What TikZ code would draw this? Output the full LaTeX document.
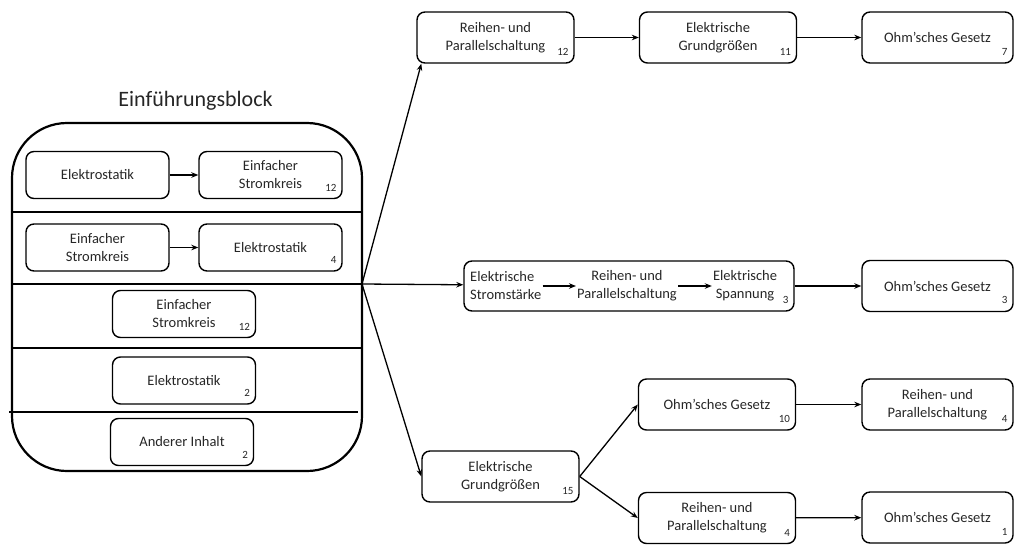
\documentclass[tikz,border=0pt]{standalone}
\usepackage{fontspec}
\setmainfont{Carlito}
\usepackage{tikz}
\usetikzlibrary{arrows.meta, positioning}

\begin{document}
\begin{tikzpicture}[
        x=1pt, y=-1pt,
        font=\fontsize{14.5}{18}\selectfont,
        lbox/.style={rectangle, draw=black, line width=1.4pt, rounded corners=8pt,
            minimum width=143pt, minimum height=47pt, inner sep=0pt, align=center, text=black!85},
        rbox/.style={lbox, minimum width=157pt, minimum height=51pt},
        obox/.style={rbox, minimum width=151pt},
        frame/.style={rectangle, draw=black, line width=2.2pt, rounded corners=55pt,
            minimum width=350pt, minimum height=348pt, inner sep=0pt},
        num/.style={font=\fontsize{11}{13}\selectfont, text=black!85, inner sep=0pt,
            anchor=south east, xshift=-6pt, yshift=8pt},
        sub/.style={inner sep=1pt, align=center, text=black!85},
        arr/.style={-{Stealth[length=7pt,width=5.5pt]}, line width=1.3pt},
        sep/.style={line width=1.1pt}
    ]
    \useasboundingbox (0,0) rectangle (1016,544);

    % Einfuehrungsblock
    \node[text=black!85, font=\fontsize{22}{26}\selectfont] (title) at (195.5,101) {Einführungsblock};
    \node[frame] (blk) at (187,297) {};
    \coordinate (hub) at (362,284);
    \draw[sep] (blk.west |- 0,212) -- (blk.east |- 0,212);
    \draw[sep] (blk.west |- hub) -- (hub);
    \draw[sep] (blk.west |- 0,348) -- (blk.east |- 0,348);
    \draw[sep] (9,412) -- (358,412);

    \node[lbox] (e1) at (97.5,175) {Elektrostatik};
    \node[lbox] (s1) at (270.5,175) {Einfacher\\Stromkreis};
    \node[num] (s1n) at (s1.south east) {12};
    \node[lbox] (s2) at (97.5,247.5) {Einfacher\\Stromkreis};
    \node[lbox] (e2) at (270.5,247.5) {Elektrostatik};
    \node[num] (e2n) at (e2.south east) {4};
    \node[lbox] (s3) at (184,314) {Einfacher\\Stromkreis};
    \node[num] (s3n) at (s3.south east) {12};
    \node[lbox] (e3) at (184,380.5) {Elektrostatik};
    \node[num] (e3n) at (e3.south east) {2};
    \node[lbox] (ai) at (182,442) {Anderer Inhalt};
    \node[num] (ain) at (ai.south east) {2};

    \draw[arr] (e1) -- (s1);
    \draw[arr] (s2) -- (e2);

    % oberer Pfad
    \node[rbox] (ra) at (495.5,37.5) {Reihen- und\\Parallelschaltung};
    \node[num] (ran) at (ra.south east) {12};
    \node[rbox] (ga) at (718,37.5) {Elektrische\\Grundgrößen};
    \node[num] (gan) at (ga.south east) {11};
    \node[obox] (oa) at (937.5,37.5) {Ohm’sches Gesetz};
    \node[num] (oan) at (oa.south east) {7};

    % mittlerer Pfad
    \node[rbox, minimum width=330pt, minimum height=50pt] (chain) at (629,286) {};
    \node[sub, anchor=west, align=left] (ci) at (469,286) {Elektrische\\Stromstärke};
    \node[sub] (cr) at (627,286) {Reihen- und\\Parallelschaltung};
    \node[sub] (cu) at (745,286) {Elektrische\\Spannung};
    \node[num] (chainn) at (chain.south east) {3};
    \node[obox] (ob) at (937.5,286) {Ohm’sches Gesetz};
    \node[num] (obn) at (ob.south east) {3};

    % unterer Pfad
    \node[rbox] (gc) at (500.5,476.5) {Elektrische\\Grundgrößen};
    \node[num] (gcn) at (gc.south east) {15};
    \node[rbox] (oc) at (717,404.5) {Ohm’sches Gesetz};
    \node[num] (ocn) at (oc.south east) {10};
    \node[obox] (rc) at (937.5,404.5) {Reihen- und\\Parallelschaltung};
    \node[num] (rcn) at (rc.south east) {4};
    \node[rbox] (rd) at (717,518) {Reihen- und\\Parallelschaltung};
    \node[num] (rdn) at (rd.south east) {4};
    \node[obox] (od) at (937.5,517.5) {Ohm’sches Gesetz};
    \node[num] (odn) at (od.south east) {1};

    \draw[arr] (hub) -- ([xshift=5pt]ra.south west);
    \draw[arr] (hub) -- (chain);
    \draw[arr] (hub) -- (gc.west);

    \draw[arr] (ra) -- (ga);
    \draw[arr] (ga) -- (oa);
    \draw[arr, line width=1.7pt] (ci) -- (cr);
    \draw[arr, line width=1.7pt] (cr) -- (cu);
    \draw[arr] (chain) -- (ob);
    \draw[arr] (gc.east) -- (oc.west);
    \draw[arr] (gc.east) -- (rd.west);
    \draw[arr] (oc) -- (rc);
    \draw[arr] (rd) -- (od);
\end{tikzpicture}
\end{document}
